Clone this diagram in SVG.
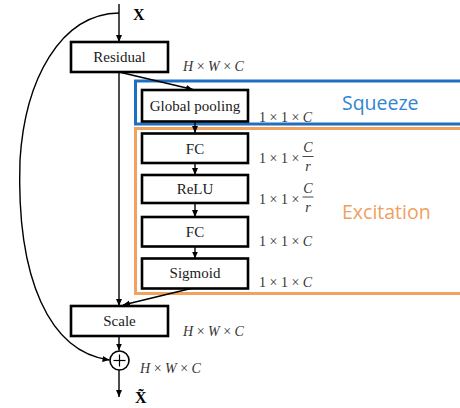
<svg xmlns="http://www.w3.org/2000/svg" width="460" height="408" viewBox="0 0 460 408">
<defs>
<marker id="ah" markerWidth="8" markerHeight="8" refX="7" refY="4" orient="auto" markerUnits="userSpaceOnUse">
<path d="M0,1 L7,4 L0,7 Z" fill="#000"/>
</marker>
<style>
.box{fill:#fff;stroke:#000;stroke-width:2.6}
.lbl{font-family:"Liberation Serif",serif;font-size:15px;fill:#1a1a1a;text-anchor:middle}
.dim{font-family:"Liberation Serif",serif;font-size:14px;fill:#333}
.it{font-style:italic}
.ln{fill:none;stroke:#000;stroke-width:1.4}
.big{font-family:"Open Sans",sans-serif;font-size:19.5px}
</style>
</defs>
<rect width="460" height="408" fill="#fff"/>

<g id="squeeze">
<rect x="135.5" y="81" width="330" height="43" fill="none" stroke="#1c6fc2" stroke-width="3"/>
<text class="big" x="342" y="110" fill="#2f86d2">Squeeze</text>
</g>
<g id="excitation">
<rect x="135.5" y="128.5" width="330" height="165" fill="none" stroke="#f0a25e" stroke-width="3"/>
<text class="big" x="342" y="219" fill="#f0a060">Excitation</text>
</g>

<g id="connectors">
<line class="ln" x1="119" y1="4" x2="119" y2="42" marker-end="url(#ah)"/>
<line class="ln" x1="119" y1="72" x2="119" y2="306" marker-end="url(#ah)"/>
<line class="ln" x1="121" y1="72.5" x2="193" y2="89.5" marker-end="url(#ah)"/>
<line class="ln" x1="195" y1="122" x2="195" y2="133" marker-end="url(#ah)"/>
<line class="ln" x1="195" y1="163" x2="195" y2="175" marker-end="url(#ah)"/>
<line class="ln" x1="195" y1="203" x2="195" y2="217" marker-end="url(#ah)"/>
<line class="ln" x1="195" y1="247" x2="195" y2="258.5" marker-end="url(#ah)"/>
<line class="ln" x1="191" y1="288.5" x2="123" y2="305" marker-end="url(#ah)"/>
<line class="ln" x1="119" y1="336" x2="119" y2="350.5" marker-end="url(#ah)"/>
<line class="ln" x1="119" y1="370" x2="119" y2="397" marker-end="url(#ah)"/>
<path class="ln" d="M119,13 C60,14 25,80 20,160 C16,280 50,352 109.5,360" marker-end="url(#ah)"/>
</g>

<g id="input"><text x="133" y="20" font-family="Liberation Serif,serif" font-size="16" font-weight="bold">X</text></g>

<g id="residual">
<rect class="box" x="71" y="42" width="97" height="30"/>
<text class="lbl" x="119.5" y="62">Residual</text>
</g>
<text class="dim" x="183" y="71"><tspan class="it">H</tspan> × <tspan class="it">W</tspan> × <tspan class="it">C</tspan></text>

<g id="global-pooling">
<rect class="box" x="142" y="90" width="106" height="31.5"/>
<text class="lbl" x="195" y="111">Global pooling</text>
</g>
<text class="dim" x="259" y="121.5">1 × 1 × <tspan class="it">C</tspan></text>

<g id="fc1">
<rect class="box" x="142" y="133.5" width="106" height="29.5"/>
<text class="lbl" x="195" y="153.5">FC</text>
</g>
<g id="dim-fc1">
<text class="dim" x="259" y="163">1 × 1 ×</text>
<text class="dim it" x="308" y="152" text-anchor="middle">C</text>
<line x1="302.5" y1="156.5" x2="313.5" y2="156.5" stroke="#333" stroke-width="0.9"/>
<text class="dim it" x="308" y="171" text-anchor="middle">r</text>
</g>

<g id="relu">
<rect class="box" x="142" y="175" width="106" height="28"/>
<text class="lbl" x="195" y="194">ReLU</text>
</g>
<g id="dim-relu">
<text class="dim" x="259" y="203.5">1 × 1 ×</text>
<text class="dim it" x="308" y="193" text-anchor="middle">C</text>
<line x1="302.5" y1="197" x2="313.5" y2="197" stroke="#333" stroke-width="0.9"/>
<text class="dim it" x="308" y="212" text-anchor="middle">r</text>
</g>

<g id="fc2">
<rect class="box" x="142" y="217" width="106" height="29.5"/>
<text class="lbl" x="195" y="237">FC</text>
</g>
<text class="dim" x="259" y="245.5">1 × 1 × <tspan class="it">C</tspan></text>

<g id="sigmoid">
<rect class="box" x="142" y="258.5" width="106" height="30"/>
<text class="lbl" x="195" y="278">Sigmoid</text>
</g>
<text class="dim" x="259" y="287">1 × 1 × <tspan class="it">C</tspan></text>

<g id="scale">
<rect class="box" x="71" y="306" width="97" height="30"/>
<text class="lbl" x="119.5" y="326">Scale</text>
</g>
<text class="dim" x="183" y="336"><tspan class="it">H</tspan> × <tspan class="it">W</tspan> × <tspan class="it">C</tspan></text>

<g id="add">
<circle cx="119.5" cy="360.5" r="9.5" fill="#fff" stroke="#000" stroke-width="1.6"/>
<line x1="113.5" y1="360.5" x2="125.5" y2="360.5" stroke="#000" stroke-width="1.2"/>
<line x1="119.5" y1="354.5" x2="119.5" y2="366.5" stroke="#000" stroke-width="1.2"/>
</g>
<text class="dim" x="140" y="373"><tspan class="it">H</tspan> × <tspan class="it">W</tspan> × <tspan class="it">C</tspan></text>

<g id="output"><text x="135" y="403" font-family="Liberation Serif,serif" font-size="16" font-weight="bold">X̃</text></g>
</svg>
